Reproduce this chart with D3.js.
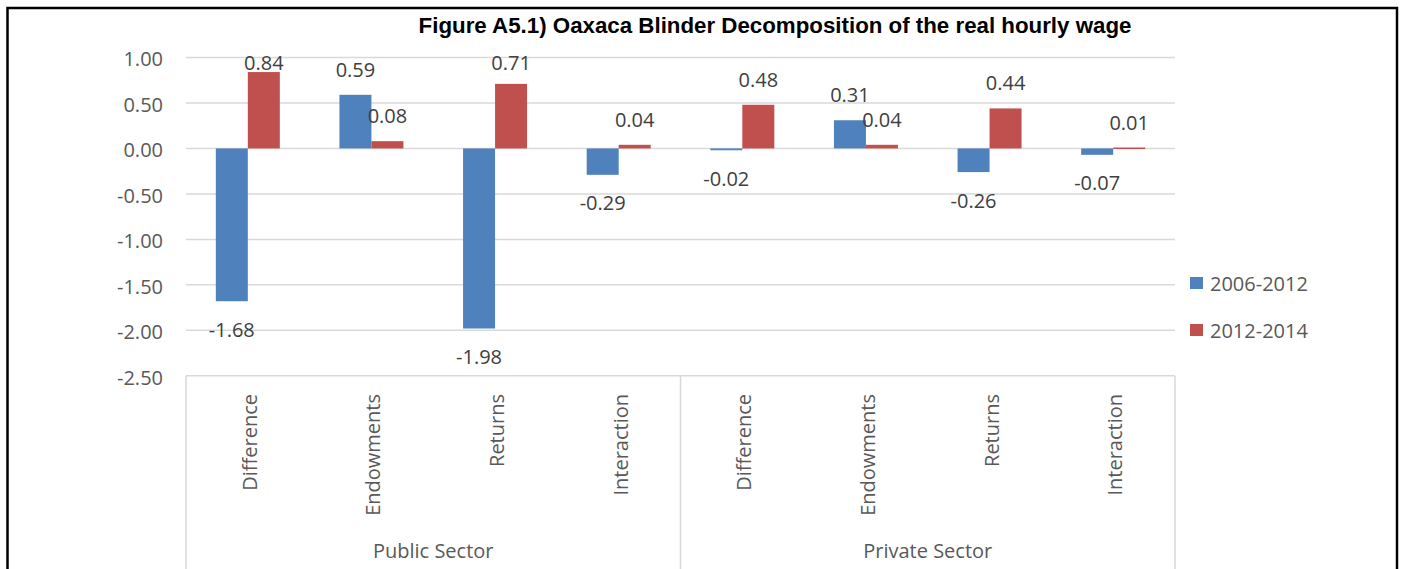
<!DOCTYPE html>
<html>
<head>
<meta charset="utf-8">
<script src="https://cdn.jsdelivr.net/npm/d3@7/dist/d3.min.js"></script>
<style>
  html, body { margin: 0; padding: 0; background: #fff; }
  svg { display: block; }
</style>
</head>
<body>
<script>
// Oaxaca-Blinder decomposition of the real hourly wage, by sector
const sectors = ["Public Sector", "Private Sector"];
const components = ["Difference", "Endowments", "Returns", "Interaction"];
const seriesNames = ["2006-2012", "2012-2014"];
const values2006_2012 = [-1.68, 0.59, -1.98, -0.29, -0.02, 0.31, -0.26, -0.07];
const values2012_2014 = [0.84, 0.08, 0.71, 0.04, 0.48, 0.04, 0.44, 0.01];
const yTicks = [1.0, 0.5, 0.0, -0.5, -1.0, -1.5, -2.0, -2.5];
const titleText = "Figure A5.1) Oaxaca Blinder Decomposition of the real hourly wage";

const W = 1404, H = 569;
const colors = { "2006-2012": "#4F81BD", "2012-2014": "#C0504D" };
const font = "'Open Sans', 'Noto Sans', sans-serif";

// one entry per category slot: sector + component
const slots = [];
sectors.forEach((s, si) => components.forEach((c, ci) => slots.push({ id: si * 4 + ci, sector: s, comp: c })));
const seriesData = [values2006_2012, values2012_2014];

// plain hyphen for negative numbers
const locale = d3.formatLocale({ decimal: ".", thousands: ",", grouping: [3], currency: ["", ""], minus: "-" });
const fmt = locale.format(".2f");

const svg = d3.select("body").append("svg").attr("width", W).attr("height", H);

// outer frame
svg.append("rect")
  .attr("x", 7.5).attr("y", 8).attr("width", 1389.5).attr("height", 640)
  .attr("fill", "none").attr("stroke", "#000").attr("stroke-width", 2.5);

const plot = { left: 186, right: 1175, top: 57.5, bottom: 375.8 };

const y = d3.scaleLinear().domain([-2.5, 1.0]).range([plot.bottom, plot.top]);
const x = d3.scaleBand().domain(slots.map(d => d.id)).range([plot.left, plot.right]).padding(0);
const bw = x.bandwidth();
const xs = d3.scaleBand().domain(seriesNames).range([bw / 2 - 32, bw / 2 + 32]).padding(0);

// title
svg.append("text")
  .attr("x", 775).attr("y", 33)
  .attr("text-anchor", "middle")
  .attr("font-family", "'Liberation Sans', Arial, sans-serif")
  .attr("font-weight", "bold").attr("font-size", 22.3)
  .attr("fill", "#000")
  .text(titleText);

// gridlines
svg.append("g").selectAll("line").data(yTicks).join("line")
  .attr("x1", plot.left).attr("x2", plot.right)
  .attr("y1", d => y(d)).attr("y2", d => y(d))
  .attr("stroke", "#D9D9D9").attr("stroke-width", 1.5);

// y axis labels
const yAxis = d3.axisLeft(y).tickValues(yTicks).tickFormat(fmt).tickSize(0).tickPadding(0);
const gy = svg.append("g").attr("transform", `translate(163,0)`).call(yAxis);
gy.select(".domain").remove();
gy.selectAll("text")
  .attr("font-family", font).attr("font-size", 20).attr("fill", "#595959")
  .attr("dy", "0.42em");

// bars
seriesNames.forEach((name, si) => {
  const vals = seriesData[si];
  const g = svg.append("g");
  g.selectAll("rect").data(slots).join("rect")
    .attr("x", d => x(d.id) + xs(name))
    .attr("width", xs.bandwidth())
    .attr("y", d => y(Math.max(0, vals[d.id])))
    .attr("height", d => Math.max(1.5, Math.abs(y(vals[d.id]) - y(0))))
    .attr("fill", colors[name]);

  // value labels: above positive bars (kept inside the plot), below negative bars
  g.selectAll("text").data(slots).join("text")
    .attr("x", d => x(d.id) + xs(name) + xs.bandwidth() / 2)
    .attr("y", d => {
      const v = vals[d.id];
      if (v >= 0) return Math.max(plot.top + 12.5, y(v) - 18);
      return y(v) + 35.5;
    })
    .attr("text-anchor", "middle")
    .attr("font-family", font).attr("font-size", 20).attr("fill", "#404040")
    .text(d => fmt(vals[d.id]));
});

// category axis box
const axisG = svg.append("g");
const boxBottom = H + 10;
const sepXs = [plot.left, (plot.left + plot.right) / 2, plot.right];
axisG.selectAll("line").data(sepXs).join("line")
  .attr("x1", d => d).attr("x2", d => d)
  .attr("y1", plot.bottom).attr("y2", boxBottom)
  .attr("stroke", "#D9D9D9").attr("stroke-width", 1.5);

// component labels (rotated)
axisG.selectAll("text.comp").data(slots).join("text")
  .attr("class", "comp")
  .attr("transform", d => `translate(${x(d.id) + bw / 2 + 9},${394}) rotate(-90)`)
  .attr("text-anchor", "end")
  .attr("font-family", font).attr("font-size", 20).attr("fill", "#595959")
  .text(d => d.comp);

// sector labels
const sectorX = d3.scaleBand().domain(sectors).range([plot.left, plot.right]);
axisG.selectAll("text.sector").data(sectors).join("text")
  .attr("class", "sector")
  .attr("x", d => sectorX(d) + sectorX.bandwidth() / 2)
  .attr("y", 558)
  .attr("text-anchor", "middle")
  .attr("font-family", font).attr("font-size", 20).attr("fill", "#595959")
  .text(d => d);

// legend
const leg = svg.append("g");
seriesNames.forEach((name, i) => {
  const ly = 277 + i * 47;
  leg.append("rect").attr("x", 1190).attr("y", ly).attr("width", 13).attr("height", 12).attr("fill", colors[name]);
  leg.append("text").attr("x", 1210).attr("y", ly + 13.5)
    .attr("font-family", font).attr("font-size", 20).attr("fill", "#595959")
    .text(name);
});
</script>
</body>
</html>
